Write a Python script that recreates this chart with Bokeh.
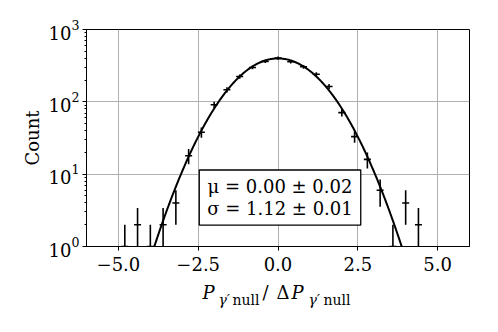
import numpy as np
from bokeh.plotting import figure
from bokeh.layouts import column
from bokeh.models import Range1d, FixedTicker, CustomJSTickFormatter, Label
from bokeh.embed import file_html
from bokeh.resources import INLINE

# ---- data ----
bin_centers = [-4.8, -4.4, -4.0, -3.6, -3.2, -2.8, -2.4, -2.0, -1.6, -1.2, -0.8, -0.4,
               0.0, 0.4, 0.8, 1.2, 1.6, 2.0, 2.4, 2.8, 3.2, 3.6, 4.0, 4.4]
counts = [1, 2, 1, 2, 4, 18, 38, 91, 147, 224, 299, 362,
          402, 358, 305, 241, 163, 71, 33, 16, 6, 1, 4, 2]
x_half_width = 0.11

fit_mu = 0.00
fit_mu_err = 0.02
fit_sigma = 1.12
fit_sigma_err = 0.01
fit_amplitude = 398.0

x_ticks = [-5.0, -2.5, 0.0, 2.5, 5.0]

FONT = "DejaVu Serif"

# ---- main figure ----
p = figure(frame_width=383, frame_height=217,
           min_border_left=86, min_border_right=29, min_border_top=29, min_border_bottom=32,
           x_range=Range1d(-6, 6), y_range=Range1d(1, 1000), y_axis_type="log",
           output_backend="svg", toolbar_location=None,
           background_fill_color="white", border_fill_color="white")

p.outline_line_color = "black"
p.outline_line_width = 1

# fit curve
xs = np.linspace(-6, 6, 600)
ys = fit_amplitude * np.exp(-(xs - fit_mu) ** 2 / (2 * fit_sigma ** 2))
p.line(xs, ys, line_color="black", line_width=2)

# error bars (Poisson)
c = np.array(counts, dtype=float)
xc = np.array(bin_centers)
err = np.sqrt(c)
lo = np.clip(c - err, 1e-3, None)
hi = c + err
p.segment(x0=xc, y0=lo, x1=xc, y1=hi, line_color="black", line_width=1.6)
p.segment(x0=xc - x_half_width, y0=c, x1=xc + x_half_width, y1=c,
          line_color="black", line_width=1.6)

# grid
p.xgrid.ticker = FixedTicker(ticks=x_ticks)
p.xgrid.grid_line_color = "#b0b0b0"
p.xgrid.grid_line_width = 1
p.ygrid.grid_line_color = "#b0b0b0"
p.ygrid.grid_line_width = 1

# axes
p.xaxis.ticker = FixedTicker(ticks=x_ticks)
p.xaxis.formatter = CustomJSTickFormatter(code="return tick.toFixed(1).replace('-', '\u2212');")
p.xaxis.minor_tick_line_color = None
for ax in (p.xaxis[0], p.yaxis[0]):
    ax.axis_line_color = "black"
    ax.axis_line_width = 1
    ax.major_tick_line_color = "black"
    ax.major_tick_out = 4
    ax.major_tick_in = 0
    ax.minor_tick_out = 2
    ax.minor_tick_in = 0
    ax.major_label_text_font = FONT
    ax.major_label_text_font_size = "18px"
    ax.major_label_text_color = "black"
p.xaxis.major_label_standoff = 6
p.yaxis.major_label_standoff = 3

p.yaxis.axis_label = "Count"
p.yaxis.axis_label_text_font = FONT
p.yaxis.axis_label_text_font_size = "18px"
p.yaxis.axis_label_text_font_style = "normal"
p.yaxis.axis_label_text_color = "black"
p.yaxis.axis_label_standoff = 3
p.xaxis.axis_label = None

# fit result box
box_text = (f"\u03bc = {fit_mu:.2f} \u00b1 {fit_mu_err:.2f}\n"
            f"\u03c3 = {fit_sigma:.2f} \u00b1 {fit_sigma_err:.2f}")
p.add_layout(Label(x=193.5, y=49, x_units="screen", y_units="screen", text=box_text,
                   text_font=FONT, text_font_size="18px", text_color="black",
                   text_align="center", text_baseline="middle", text_line_height=1.05,
                   background_fill_color="white", background_fill_alpha=1.0,
                   border_line_color="black", border_line_width=1.3,
                   padding=(8, 6)))

# ---- x-axis label strip: P_{γ' null}/ΔP_{γ' null} ----
# x coordinates are page pixels (strip frame is aligned with the main frame: 86..469)
lab = figure(width=498, height=50, x_range=Range1d(86, 469), y_range=Range1d(0, 50),
             x_axis_location=None, y_axis_location=None,
             min_border_left=86, min_border_right=29, min_border_top=0, min_border_bottom=0,
             frame_width=383, frame_height=50,
             output_backend="svg", toolbar_location=None,
             background_fill_color="white", border_fill_color="white")
lab.outline_line_color = None
lab.xgrid.visible = False
lab.ygrid.visible = False

pieces = [
    ("P", 202, 36, "18px", "italic"),
    ("\u03b3\u2032", 218, 29, "14px", "italic"),
    ("null", 232, 29, "14px", "normal"),
    ("/", 262, 36, "18px", "normal"),
    ("\u0394", 276, 36, "18px", "normal"),
    ("P", 291, 36, "18px", "italic"),
    ("\u03b3\u2032", 308, 29, "14px", "italic"),
    ("null", 323, 29, "14px", "normal"),
]
for txt, sx, sy, fs, st in pieces:
    lab.add_layout(Label(x=sx, y=sy, text=txt,
                         text_font=FONT, text_font_size=fs, text_font_style=st,
                         text_align="left", text_baseline="alphabetic", text_color="black"))

layout = column(p, lab, spacing=0)
open("out.html", "w").write(file_html(layout, INLINE))
